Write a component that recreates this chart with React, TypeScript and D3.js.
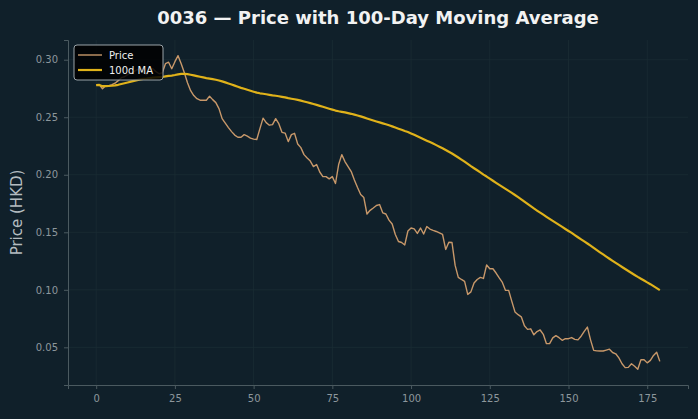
import React, { useEffect, useRef } from "react";
import * as d3 from "d3";

const width = 698;
const height = 419;
const margin = { top: 40, right: 10, bottom: 34, left: 68 };

const title = "0036 — Price with 100-Day Moving Average";
const yLabel = "Price (HKD)";
const maWindow = 100;

// daily closing price, day 0..179
const prices = [
  0.2779, 0.2783, 0.2748, 0.2774, 0.2774, 0.2783, 0.2796, 0.2818, 0.2844, 0.2852,
  0.287, 0.2887, 0.2896, 0.2913, 0.2922, 0.2887, 0.287, 0.2913, 0.2922, 0.2896,
  0.2878, 0.2887, 0.2965, 0.2978, 0.2922, 0.2983, 0.3035, 0.2965, 0.2887, 0.28,
  0.2731, 0.2688, 0.2661, 0.2648, 0.2648, 0.2648, 0.2683, 0.2653, 0.2627, 0.2575,
  0.2488, 0.2449, 0.241, 0.2375, 0.2345, 0.2326, 0.2326, 0.2349, 0.2336, 0.2319,
  0.231, 0.2306, 0.2401, 0.2492, 0.2453, 0.2431, 0.2436, 0.2488, 0.2444, 0.2369,
  0.2362, 0.2288, 0.2349, 0.236, 0.2268, 0.2236, 0.2175, 0.2145, 0.2119, 0.2071,
  0.2089, 0.2024, 0.1984, 0.1984, 0.1964, 0.1984, 0.1924, 0.2089, 0.2175, 0.2115,
  0.2071, 0.2028, 0.1954, 0.1889, 0.1828, 0.1802, 0.1659, 0.1691, 0.1711, 0.1733,
  0.1741, 0.1669, 0.1659, 0.1606, 0.1572, 0.1481, 0.142, 0.1411, 0.139, 0.1511,
  0.1537, 0.153, 0.149, 0.1537, 0.1485, 0.155, 0.1528, 0.1516, 0.1507, 0.1494,
  0.1481, 0.1351, 0.1414, 0.1411, 0.1212, 0.1108, 0.109, 0.1073, 0.096, 0.0982,
  0.106, 0.109, 0.1108, 0.1099, 0.1216, 0.1183, 0.1183, 0.1146, 0.1103, 0.1064,
  0.0995, 0.0995, 0.09, 0.0808, 0.0784, 0.0765, 0.0687, 0.0656, 0.0661, 0.0609,
  0.0637, 0.0651, 0.0613, 0.0532, 0.0532, 0.0582, 0.0602, 0.0584, 0.0561, 0.0575,
  0.0575, 0.0585, 0.0569, 0.0565, 0.0597, 0.0639, 0.0676, 0.0565, 0.0474, 0.0469,
  0.0468, 0.0468, 0.0476, 0.0484, 0.0455, 0.0444, 0.0409, 0.0357, 0.0324, 0.0326,
  0.0357, 0.0335, 0.0309, 0.0392, 0.0392, 0.0365, 0.0387, 0.043, 0.0457, 0.0378,
];

const xTicks = [0, 25, 50, 75, 100, 125, 150, 175];
const yTicks = [0.05, 0.1, 0.15, 0.2, 0.25, 0.3];

const bg = "#10202a";
const gridColor = "#1b2c34";
const spineColor = "#4b5a60";
const tickText = "#8d979c";
const priceColor = "#c8986a";
const maColor = "#e0b21a";

export default function App() {
  const ref = useRef<SVGSVGElement>(null);

  useEffect(() => {
    const svg = d3.select(ref.current);
    svg.selectAll("*").remove();

    const days = prices.map((_, i) => i);
    // trailing mean over up to 100 days
    const ma = prices.map((_, i) =>
      d3.mean(prices.slice(Math.max(0, i - maWindow + 1), i + 1)) as number
    );

    const xMin = 0;
    const xMax = prices.length - 1;
    const xPad = (xMax - xMin) * 0.05;
    const yMin = d3.min(prices) as number;
    const yMax = d3.max(prices) as number;
    const yPad = (yMax - yMin) * 0.05;

    const x = d3
      .scaleLinear()
      .domain([xMin - xPad, xMax + xPad])
      .range([margin.left, width - margin.right]);
    const y = d3
      .scaleLinear()
      .domain([yMin - yPad, yMax + yPad])
      .range([height - margin.bottom, margin.top]);

    svg.append("rect").attr("width", width).attr("height", height).attr("fill", bg);

    // grid
    const grid = svg.append("g").attr("stroke", gridColor).attr("stroke-width", 0.8);
    grid
      .selectAll("line.gx")
      .data(xTicks)
      .join("line")
      .attr("x1", (d) => x(d))
      .attr("x2", (d) => x(d))
      .attr("y1", margin.top)
      .attr("y2", height - margin.bottom);
    grid
      .selectAll("line.gy")
      .data(yTicks)
      .join("line")
      .attr("class", "gy")
      .attr("x1", margin.left)
      .attr("x2", width - margin.right)
      .attr("y1", (d) => y(d))
      .attr("y2", (d) => y(d));

    // axes
    const xAxis = svg
      .append("g")
      .attr("transform", `translate(0,${height - margin.bottom})`)
      .call(d3.axisBottom(x).tickValues(xTicks).tickSize(4).tickPadding(6).tickFormat(d3.format("d")));
    const yAxis = svg
      .append("g")
      .attr("transform", `translate(${margin.left},0)`)
      .call(d3.axisLeft(y).tickValues(yTicks).tickSize(4).tickPadding(6).tickFormat(d3.format(".2f")));

    [xAxis, yAxis].forEach((g) => {
      g.select(".domain").attr("stroke", spineColor).attr("stroke-width", 1);
      g.selectAll(".tick line").attr("stroke", spineColor);
      g.selectAll(".tick text")
        .attr("fill", tickText)
        .attr("font-family", "DejaVu Sans")
        .attr("font-size", 10);
    });

    const line = d3
      .line<number>()
      .x((_, i) => x(days[i]))
      .y((d) => y(d));

    svg
      .append("path")
      .datum(prices)
      .attr("fill", "none")
      .attr("stroke", priceColor)
      .attr("stroke-width", 1.4)
      .attr("stroke-linejoin", "round")
      .attr("d", line);

    svg
      .append("path")
      .datum(ma)
      .attr("fill", "none")
      .attr("stroke", maColor)
      .attr("stroke-width", 2.2)
      .attr("stroke-linejoin", "round")
      .attr("d", line);

    // title
    svg
      .append("text")
      .attr("x", (margin.left + width - margin.right) / 2)
      .attr("y", 24)
      .attr("text-anchor", "middle")
      .attr("fill", "#f2f2f2")
      .attr("font-family", "DejaVu Sans")
      .attr("font-weight", "bold")
      .attr("font-size", 18)
      .text(title);

    svg
      .append("text")
      .attr("transform", `translate(22,${(margin.top + height - margin.bottom) / 2}) rotate(-90)`)
      .attr("text-anchor", "middle")
      .attr("fill", "#b4bcc0")
      .attr("font-family", "DejaVu Sans")
      .attr("font-size", 15)
      .text(yLabel);

    // legend
    const lg = svg.append("g").attr("transform", `translate(${margin.left + 6},${margin.top + 5})`);
    lg.append("rect")
      .attr("width", 89)
      .attr("height", 35)
      .attr("rx", 3)
      .attr("fill", "#000000")
      .attr("fill-opacity", 0.85)
      .attr("stroke", "#9aa3a8")
      .attr("stroke-width", 1);
    const items = [
      { label: "Price", color: priceColor, w: 1.4 },
      { label: "100d MA", color: maColor, w: 2.2 },
    ];
    items.forEach((it, k) => {
      const yy = 10 + k * 15;
      lg.append("line")
        .attr("x1", 4)
        .attr("x2", 28)
        .attr("y1", yy)
        .attr("y2", yy)
        .attr("stroke", it.color)
        .attr("stroke-width", it.w);
      lg.append("text")
        .attr("x", 35)
        .attr("y", yy + 3.5)
        .attr("fill", "#f0f0f0")
        .attr("font-family", "DejaVu Sans")
        .attr("font-size", 10)
        .text(it.label);
    });
  }, []);

  return (
    <svg
      ref={ref}
      width={width}
      height={height}
      style={{ position: "absolute", left: 0, top: 0, display: "block" }}
    />
  );
}
